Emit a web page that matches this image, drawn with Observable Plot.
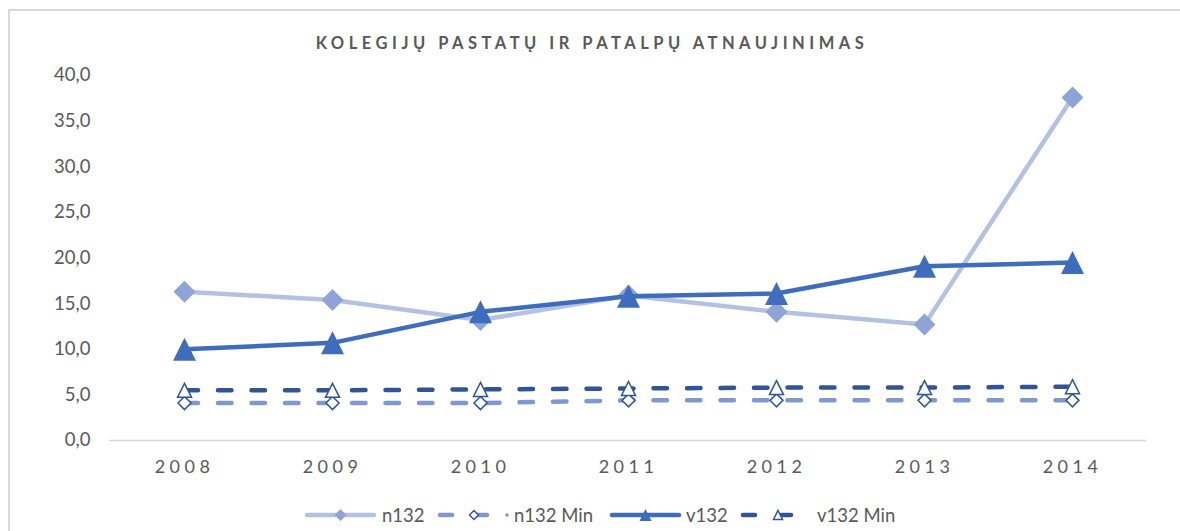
<!DOCTYPE html>
<html>
<head>
<meta charset="utf-8">
<script src="https://cdn.jsdelivr.net/npm/d3@7"></script>
<script src="https://cdn.jsdelivr.net/npm/@observablehq/plot@0.6"></script>
<style>
  html, body { margin: 0; padding: 0; background: #fff; }
  body { width: 1180px; height: 531px; overflow: hidden; position: relative; font-family: Lato, "Open Sans", sans-serif; }
  #frame { position: absolute; left: 8px; top: 9px; width: 1200px; height: 600px; border-left: 2px solid #D9D9D9; border-top: 2px solid #D9D9D9; }
  #title { position: absolute; left: 2px; top: 33px; width: 1180px; text-align: center; font-size: 16.5px; font-weight: 700; letter-spacing: 4.5px; color: #595959; line-height: 20px; }
  #chart { position: absolute; left: 0; top: 60px; }
  #legend { position: absolute; left: 0; top: 503px; width: 1180px; height: 24px; }
  #legend text { font-family: Lato, "Open Sans", sans-serif; font-size: 18.5px; fill: #595959; }
  .xt text { font-size: 18px !important; letter-spacing: 4.5px; }
  .yt text { font-size: 18.5px !important; }
</style>
</head>
<body>
<div id="frame"></div>
<div id="title">KOLEGIJŲ PASTATŲ IR PATALPŲ ATNAUJINIMAS</div>
<div id="chart"></div>
<div id="legend"></div>
<script>
const years = ["2008", "2009", "2010", "2011", "2012", "2013", "2014"];
const n132 = [16.3, 15.4, 13.2, 15.9, 14.1, 12.7, 37.6];
const n132Min = [4.1, 4.1, 4.1, 4.4, 4.4, 4.4, 4.4];
const v132 = [10.0, 10.7, 14.1, 15.8, 16.1, 19.1, 19.5];
const v132Min = [5.5, 5.5, 5.6, 5.7, 5.8, 5.8, 5.9];
const yTicks = [0, 5, 10, 15, 20, 25, 30, 35, 40];

const colN = "#B4C1E2", colNMark = "#8FA4D6";
const colNMin = "#7F98D2";
const colV = "#3F6DBD";
const colVMin = "#2F5597";

const rows = (vals) => years.map((y, i) => ({year: y, value: vals[i]}));

const diamond = {draw(ctx, size) { const r = Math.sqrt(size / Math.PI); ctx.moveTo(0, -r); ctx.lineTo(r, 0); ctx.lineTo(0, r); ctx.lineTo(-r, 0); ctx.closePath(); }};
const triangle = {draw(ctx, size) { const r = Math.sqrt(size / Math.PI); ctx.moveTo(0, -r); ctx.lineTo(r, r); ctx.lineTo(-r, r); ctx.closePath(); }};

const fmt = (d) => d.toFixed(1).replace(".", ",");

const plot = Plot.plot({
  width: 1180,
  height: 430,
  marginLeft: 109,
  marginRight: 34,
  marginTop: 15,
  marginBottom: 50,
  style: {fontFamily: "Lato, 'Open Sans', sans-serif", fontSize: "17px", color: "#595959", background: "transparent"},
  x: {type: "point", domain: years, padding: 0.5, label: null},
  y: {domain: [0, 40], label: null},
  marks: [
    Plot.ruleX([0], {x: () => null, frameAnchor: "left", stroke: "#D9D9D9", strokeWidth: 1.5}),
    Plot.ruleY([0], {stroke: "#D9D9D9", strokeWidth: 1.5}),
    Plot.axisY({ticks: yTicks, tickFormat: fmt, tickSize: 0, tickPadding: 19, fill: "#595959", className: "yt"}),
    Plot.axisX({tickSize: 0, tickPadding: 20, fill: "#595959", className: "xt", dx: 0}),
    // n132
    Plot.line(rows(n132), {x: "year", y: "value", stroke: colN, strokeWidth: 4.5}),
    Plot.dot(rows(n132), {x: "year", y: "value", symbol: diamond, r: 11, fill: colNMark, stroke: "none"}),
    // n132 Min
    Plot.line(rows(n132Min), {x: "year", y: "value", stroke: colNMin, strokeWidth: 4.5, strokeDasharray: "13.5,20", strokeLinecap: "round"}),
    Plot.dot(rows(n132Min), {x: "year", y: "value", symbol: diamond, r: 6.5, fill: "white", stroke: colVMin, strokeWidth: 1.5}),
    // v132
    Plot.line(rows(v132), {x: "year", y: "value", stroke: colV, strokeWidth: 4.5}),
    Plot.dot(rows(v132), {x: "year", y: "value", symbol: triangle, r: 11.5, fill: colV, stroke: "none"}),
    // v132 Min
    Plot.line(rows(v132Min), {x: "year", y: "value", stroke: colVMin, strokeWidth: 4.5, strokeDasharray: "13.5,20", strokeLinecap: "round"}),
    Plot.dot(rows(v132Min), {x: "year", y: "value", symbol: triangle, r: 7, fill: "white", stroke: colVMin, strokeWidth: 1.5})
  ]
});
document.getElementById("chart").appendChild(plot);

// Legend
const legendItems = [
  {name: "n132", x0: 305, x1: 376, tx: 382, stroke: colN, dash: null, symbol: diamond, r: 6, fill: colNMark, mstroke: "none"},
  {name: "n132 Min", x0: 438, x1: 489, tx: 514, stroke: colNMin, dash: "10,26", symbol: diamond, r: 4.5, fill: "white", mstroke: colVMin, dot: 507},
  {name: "v132", x0: 610, x1: 681, tx: 686, stroke: colV, dash: null, symbol: triangle, r: 6, fill: colV, mstroke: "none"},
  {name: "v132 Min", x0: 741, x1: 793, tx: 817, stroke: colVMin, dash: "10,26", symbol: triangle, r: 4.5, fill: "white", mstroke: colVMin}
];
const svg = d3.select("#legend").append("svg").attr("width", 1180).attr("height", 24);
const cy = 12;
for (const it of legendItems) {
  const g = svg.append("g");
  if (it.dash) {
    g.append("line").attr("x1", it.x0 + 2).attr("x2", it.x0 + 14).attr("y1", cy).attr("y2", cy).attr("stroke", it.stroke).attr("stroke-width", 4.5).attr("stroke-linecap", "round");
    g.append("line").attr("x1", it.x1 - 12).attr("x2", it.x1 - 2).attr("y1", cy).attr("y2", cy).attr("stroke", it.stroke).attr("stroke-width", 4.5).attr("stroke-linecap", "round");
  } else {
    g.append("line").attr("x1", it.x0 + 2).attr("x2", it.x1 - 2).attr("y1", cy).attr("y2", cy).attr("stroke", it.stroke).attr("stroke-width", 4.5).attr("stroke-linecap", "round");
  }
  const sz = Math.PI * it.r * it.r;
  const mx = it.dash ? it.x1 - 15 : (it.x0 + it.x1) / 2;
  g.append("path").attr("d", d3.symbol(it.symbol, sz)()).attr("transform", `translate(${mx},${cy})`)
    .attr("fill", it.fill).attr("stroke", it.mstroke).attr("stroke-width", 1.5);
  if (it.dot) g.append("circle").attr("cx", it.dot).attr("cy", cy).attr("r", 1.8).attr("fill", colNMin);
  g.append("text").attr("x", it.tx).attr("y", cy).attr("dy", "0.36em").text(it.name);
}
</script>
</body>
</html>
